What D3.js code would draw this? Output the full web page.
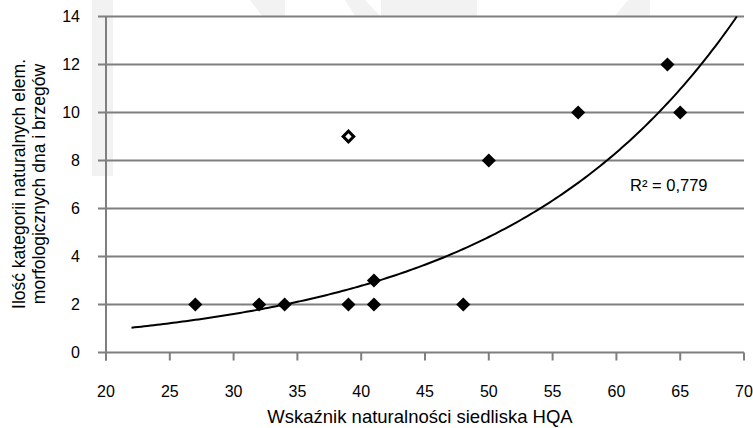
<!DOCTYPE html>
<html>
<head>
<meta charset="utf-8">
<script src="https://cdn.jsdelivr.net/npm/d3@7"></script>
<style>
  html, body { margin: 0; padding: 0; background: #fff; }
  svg { display: block; font-family: "Liberation Sans", Arial, sans-serif; }
</style>
</head>
<body>
<svg width="753" height="428"></svg>
<script>
// Data
const hqa      = [27, 32, 34, 39, 41, 41, 48, 50, 57, 64, 65];
const elements = [ 2,  2,  2,  2,  2,  3,  2,  8, 10, 12, 10];
// outlier drawn as hollow marker (not used in the fit)
const outlierX = [39];
const outlierY = [9];

const xTicks = [20, 25, 30, 35, 40, 45, 50, 55, 60, 65, 70];
const yTicks = [0, 2, 4, 6, 8, 10, 12, 14];
const r2Label = 'R² = 0,779';
const xTitle = 'Wskaźnik naturalności siedliska HQA';
const yTitle = ['Ilość kategorii naturalnych elem.', 'morfologicznych dna i brzegów'];

const svg = d3.select('svg');

// faint watermark shapes behind the chart
const wm = svg.append('g').attr('fill', '#f2f2f2');
wm.append('rect').attr('x', 92).attr('y', 0).attr('width', 21).attr('height', 176);
wm.append('path').attr('d', 'M250,0 L285,0 L285,16 L262,16 Z');
wm.append('path').attr('d', 'M345,0 L365,0 L380,16 L355,16 Z');
wm.append('rect').attr('x', 381).attr('y', 0).attr('width', 96).attr('height', 16);
wm.append('path').attr('d', 'M615,16 L628,0 L650,0 L650,16 Z');

const x = d3.scaleLinear().domain([20, 70]).range([106, 744]);
const y = d3.scaleLinear().domain([0, 14]).range([352.5, 16.5]);

const axisColor = '#7f7f7f';

// horizontal gridlines (with tick stubs to the left)
svg.append('g')
  .selectAll('line')
  .data(yTicks)
  .join('line')
  .attr('x1', 98)
  .attr('x2', x(70))
  .attr('y1', d => y(d))
  .attr('y2', d => y(d))
  .attr('stroke', axisColor)
  .attr('stroke-width', 2);

// y axis line
svg.append('line')
  .attr('x1', x(20)).attr('x2', x(20))
  .attr('y1', y(14)).attr('y2', y(0) + 8)
  .attr('stroke', axisColor).attr('stroke-width', 2);

// x axis ticks
svg.append('g')
  .selectAll('line')
  .data(xTicks)
  .join('line')
  .attr('x1', d => x(d)).attr('x2', d => x(d))
  .attr('y1', y(0)).attr('y2', y(0) + 8)
  .attr('stroke', axisColor).attr('stroke-width', 2);

// tick labels
svg.append('g')
  .selectAll('text')
  .data(yTicks)
  .join('text')
  .attr('x', 80)
  .attr('y', d => y(d))
  .attr('dy', '0.35em')
  .attr('text-anchor', 'end')
  .attr('font-size', 16)
  .attr('fill', '#000')
  .text(d => d);

svg.append('g')
  .selectAll('text')
  .data(xTicks)
  .join('text')
  .attr('x', d => x(d))
  .attr('y', 397)
  .attr('text-anchor', 'middle')
  .attr('font-size', 16)
  .attr('fill', '#000')
  .text(d => d);

// axis titles
svg.append('text')
  .attr('x', 420)
  .attr('y', 423)
  .attr('text-anchor', 'middle')
  .attr('font-size', 18.5)
  .text(xTitle);

svg.append('g')
  .attr('transform', 'translate(0,184) rotate(-90)')
  .selectAll('text')
  .data(yTitle)
  .join('text')
  .attr('x', 0)
  .attr('y', (d, i) => 25 + i * 19.5)
  .attr('text-anchor', 'middle')
  .attr('font-size', 17.5)
  .text(d => d);

// exponential trendline (least squares on ln y, like a spreadsheet)
const lx = hqa, ly = elements.map(v => Math.log(v));
const mx = d3.mean(lx), my = d3.mean(ly);
const b = d3.sum(lx, (v, i) => (v - mx) * (ly[i] - my)) / d3.sum(lx, v => (v - mx) * (v - mx));
const a = Math.exp(my - b * mx);
const xEnd = Math.min(70, Math.log(14 / a) / b);
const trend = d3.range(22, xEnd, 0.25).concat([xEnd]).map(v => [v, a * Math.exp(b * v)]);

svg.append('path')
  .datum(trend)
  .attr('d', d3.line().x(d => x(d[0])).y(d => y(d[1])))
  .attr('fill', 'none')
  .attr('stroke', '#000')
  .attr('stroke-width', 2);

svg.append('text')
  .attr('x', 630)
  .attr('y', 191)
  .attr('font-size', 16.5)
  .text(r2Label);

// markers
svg.append('g')
  .selectAll('path')
  .data(hqa.map((v, i) => [v, elements[i]]))
  .join('path')
  .attr('d', d3.symbol().type(d3.symbolSquare).size(100))
  .attr('transform', d => `translate(${x(d[0])},${y(d[1])}) rotate(45)`)
  .attr('fill', '#000');

svg.append('g')
  .selectAll('path')
  .data(outlierX.map((v, i) => [v, outlierY[i]]))
  .join('path')
  .attr('d', d3.symbol().type(d3.symbolSquare).size(56))
  .attr('transform', d => `translate(${x(d[0])},${y(d[1])}) rotate(45)`)
  .attr('fill', '#fff')
  .attr('stroke', '#000')
  .attr('stroke-width', 3);
</script>
</body>
</html>
